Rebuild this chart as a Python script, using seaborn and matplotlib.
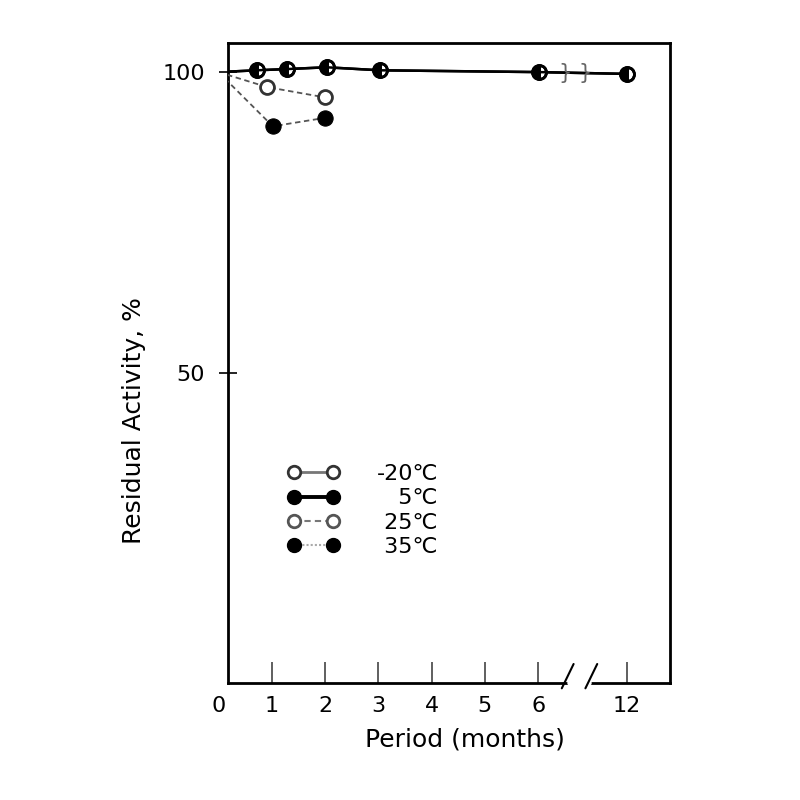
import numpy as np
import pandas as pd
import matplotlib
matplotlib.use('Agg')
import matplotlib.pyplot as plt
import matplotlib.transforms as mtransforms
from matplotlib.lines import Line2D
import seaborn as sns

sns.set_theme(style='ticks')
plt.rcParams['font.family'] = ['DejaVu Sans']
plt.rcParams['text.color'] = 'black'
plt.rcParams['axes.labelcolor'] = 'black'
plt.rcParams['xtick.labelcolor'] = 'black'
plt.rcParams['ytick.labelcolor'] = 'black'

# Data (months, residual activity %)
months_m20 = [0, 0.72, 1.28, 2.03, 3.03, 6.03, 12]
activity_m20 = [100, 100.3, 100.5, 100.8, 100.3, 100.0, 99.7]
months_5 = [0, 0.72, 1.28, 2.03, 3.03, 6.03, 12]
activity_5 = [100, 100.3, 100.5, 100.8, 100.3, 100.0, 99.7]
months_25 = [0, 0.92, 2.0]
activity_25 = [100, 97.5, 95.8]
months_35 = [0, 1.02, 2.0]
activity_35 = [100, 91.0, 92.4]

series_labels = ['-20\u2103', '\u2007 5\u2103', ' 25\u2103', ' 35\u2103']
x_ticks = [1, 2, 3, 4, 5, 6, 12]
y_ticks = [50, 100]

# broken x axis: months after 6 are compressed
BREAK = 6
SQUEEZE = 0.277


def forward(x):
    x = np.asarray(x, dtype=float)
    return np.where(x <= BREAK, x, BREAK + (x - BREAK) * SQUEEZE)


def inverse(x):
    x = np.asarray(x, dtype=float)
    return np.where(x <= BREAK, x, BREAK + (x - BREAK) / SQUEEZE)


fig = plt.figure(figsize=(8, 8), dpi=100)
ax = fig.add_axes([0.285, 0.146, 0.5525, 0.8])
ax.set_xscale('function', functions=(forward, inverse))

dash_kw = dict(linestyle=(0, (3, 2)), linewidth=1.3, color='#555555')
sns.lineplot(x=months_25, y=activity_25, sort=False, estimator=None, ax=ax,
             marker='o', markersize=10, markerfacecolor='white',
             markeredgecolor='#333333', markeredgewidth=2, zorder=3, **dash_kw)
sns.lineplot(x=months_35, y=activity_35, sort=False, estimator=None, ax=ax,
             marker='o', markersize=11, markerfacecolor='black',
             markeredgecolor='black', zorder=3, **dash_kw)
sns.lineplot(x=months_m20, y=activity_m20, sort=False, estimator=None, ax=ax,
             marker='o', markersize=10, markerfacecolor='white',
             markeredgecolor='black', markeredgewidth=2,
             color='black', linewidth=1.8, zorder=4)
sns.lineplot(x=months_5, y=activity_5, sort=False, estimator=None, ax=ax,
             marker='o', markersize=10, markerfacecolor='black', fillstyle='left',
             markeredgecolor='black', markeredgewidth=2,
             color='black', linewidth=1.8, zorder=5)

ax.set_xlim(0.18, 14.93)
ax.set_ylim(-1.5, 104.8)

ax.set_xticks(x_ticks)
ax.set_xticklabels([str(t) for t in x_ticks], fontsize=16)
ax.set_yticks(y_ticks)
ax.set_yticklabels([str(t) for t in y_ticks], fontsize=16)
ax.tick_params(axis='x', direction='in', length=15, width=1.2, color='#444444', pad=9)
ax.tick_params(axis='y', direction='inout', length=13, width=1.2, color='black', pad=10)
ax.minorticks_off()

for s in ax.spines.values():
    s.set_linewidth(2)
    s.set_color('black')

xt = mtransforms.blended_transform_factory(ax.transData, ax.transAxes)
ax.text(0, -0.02, '0', transform=xt, ha='center', va='top', fontsize=16)

# break on the axis
brk_a, brk_b = 8.0, 9.6
ax.plot([brk_a + 0.15, brk_b - 0.15], [0, 0], transform=xt, color='white',
        linewidth=4, clip_on=False, zorder=6)
for b in (brk_a, brk_b):
    ax.plot([b - 0.4, b + 0.4], [-0.008, 0.03], transform=xt, color='black',
            linewidth=1.5, clip_on=False, zorder=7)
# break on the 12-month line
ax.text(8.5, activity_m20[-1] + 0.1, '} }', ha='center', va='center',
        fontsize=15, color='#666666', zorder=8)

ax.set_xlabel('Period (months)', fontsize=18)
ax.xaxis.set_label_coords(0.535, -0.07)
ax.set_ylabel('Residual Activity, %', fontsize=18)
ax.yaxis.set_label_coords(-0.185, 0.41)

handles = [
    Line2D([], [], color='#777777', lw=2, marker='o', ms=9, mfc='white', mec='#333333', mew=2),
    Line2D([], [], color='black', lw=2.8, marker='o', ms=10, mfc='black', mec='black'),
    Line2D([], [], color='#777777', lw=1.5, ls=(0, (3, 2)), marker='o', ms=9, mfc='white', mec='#555555', mew=2),
    Line2D([], [], color='#aaaaaa', lw=1.5, ls=(0, (1, 1)), marker='o', ms=10, mfc='black', mec='black'),
]
ax.legend(handles, series_labels, loc='upper left', bbox_to_anchor=(0.11, 0.36),
          frameon=False, fontsize=16, numpoints=2, handlelength=2.33,
          handletextpad=1.7, labelspacing=0.2, borderpad=0)

plt.savefig('out.png', dpi=100)
